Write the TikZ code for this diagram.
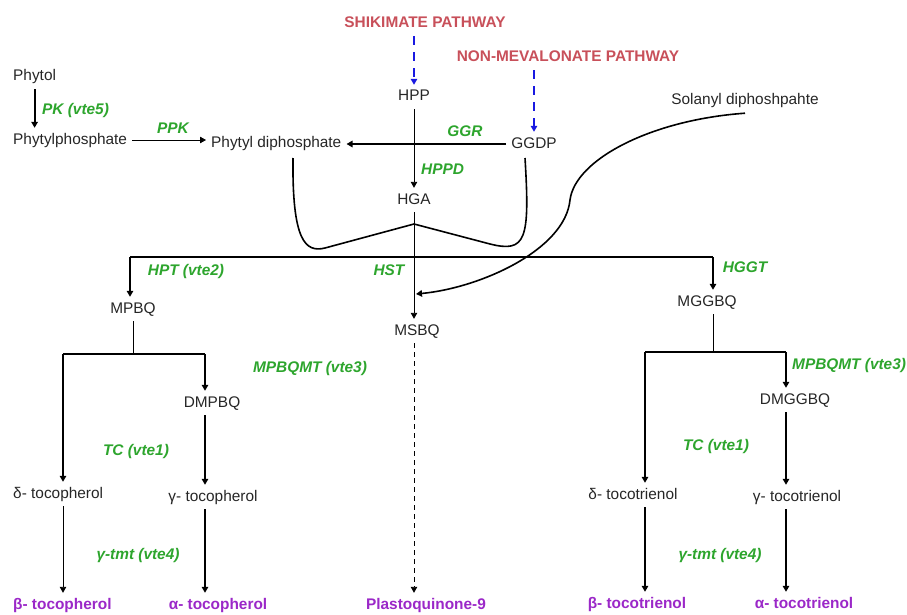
\documentclass[tikz,border=0pt]{standalone}
\usepackage{fontspec}
\setmainfont{Liberation Sans}
\usetikzlibrary{arrows.meta,calc}
\definecolor{pathred}{RGB}{200,80,90}
\definecolor{enzgreen}{RGB}{45,165,45}
\definecolor{prodpurple}{RGB}{155,40,200}
\definecolor{dashblue}{RGB}{25,25,225}
\begin{document}
\begin{tikzpicture}[x=1pt,y=-1pt,
  every node/.style={font=\fontsize{15.4}{18}\selectfont, text=black!85, inner xsep=5pt, inner ysep=5pt, text height=11pt, text depth=3pt},
  enz/.style={text=enzgreen, font=\fontsize{15.4}{18}\selectfont\bfseries\itshape},
  pw/.style={text=pathred, font=\fontsize{15.4}{18}\selectfont\bfseries},
  prod/.style={text=prodpurple, font=\fontsize{15.4}{18}\selectfont\bfseries},
  tipd/.style={-{Triangle[length=6pt,width=6.5pt]}},
  thk/.style={tipd, line width=2.2pt},
  thn/.style={tipd, line width=0.9pt},
  midarr/.style={tipd, line width=1.5pt},
  barline/.style={line width=2.2pt},
  thinline/.style={line width=0.9pt},
  midline/.style={line width=1.5pt},
  curveline/.style={line width=1.6pt},
  bluedash/.style={tipd, dashblue, line width=1.8pt, dash pattern=on 9pt off 7pt},
  grayd/.style={tipd, line width=0.9pt, dash pattern=on 5pt off 4pt}
]
\useasboundingbox (0,0) rectangle (907,615);

% pathways
\node[pw] (shik) at (425,24) {SHIKIMATE PATHWAY};
\node[pw] (nonmev) at (568,58) {NON-MEVALONATE PATHWAY};

% compounds
\node (hpp) at (414,97) {HPP};
\node (ggdp) at (534,144) {GGDP};
\node (solanyl) at (745,101) {Solanyl diphoshpahte};
\node[anchor=west] (phytol) at (8,77) {Phytol};
\node[anchor=west] (phytylp) at (8,140) {Phytylphosphate};
\node[anchor=west] (phytyldp) at (206,143) {Phytyl diphosphate};
\node (hga) at (414,200) {HGA};
\node (mpbq) at (133,309) {MPBQ};
\node (msbq) at (417,331) {MSBQ};
\node (mggbq) at (707,302) {MGGBQ};
\node (dmpbq) at (212,403) {DMPBQ};
\node (dmggbq) at (795,400) {DMGGBQ};
\node[anchor=west] (dtoco) at (8,494) {δ- tocopherol};
\node (gtoco) at (213,497) {γ- tocopherol};
\node (dtri) at (633,495) {δ- tocotrienol};
\node (gtri) at (797,497) {γ- tocotrienol};

% products
\node[prod,anchor=west] (btoco) at (8,605) {β- tocopherol};
\node[prod] (atoco) at (218,605) {α- tocopherol};
\node[prod] (pq9) at (426,605) {Plastoquinone-9};
\node[prod] (btri) at (637,604) {β- tocotrienol};
\node[prod] (atri) at (804,604) {α- tocotrienol};

% enzymes
\node[enz,anchor=west] (pk) at (37,110) {PK (vte5)};
\node[enz] (ppk) at (173,129) {PPK};
\node[enz] (ggr) at (465,132) {GGR};
\node[enz,anchor=west] (hppd) at (416,170) {HPPD};
\node[enz] (hpt) at (186,271) {HPT (vte2)};
\node[enz] (hst) at (389,271) {HST};
\node[enz] (hggt) at (745,268) {HGGT};
\node[enz] (mpbqmtL) at (310,368) {MPBQMT (vte3)};
\node[enz,anchor=west] (mpbqmtR) at (787,365) {MPBQMT (vte3)};
\node[enz] (tcL) at (136,451) {TC (vte1)};
\node[enz] (tcR) at (716,446) {TC (vte1)};
\node[enz] (tmtL) at (138,555) {γ-tmt (vte4)};
\node[enz] (tmtR) at (720,555) {γ-tmt (vte4)};

% junction coordinates
\coordinate (bL) at (130,257);
\coordinate (bR) at (713,257);
\coordinate (mL) at (63,354);
\coordinate (mR) at (205,354);
\coordinate (nL) at (645,352);
\coordinate (nR) at (786,352);
\coordinate (nC) at (713,352);
\coordinate (vL) at (293,158);
\coordinate (vR) at (525,158);
\coordinate (vTop) at (414,224);
\coordinate (sEnd) at (416,294);

% pathway inputs
\draw[bluedash] (hpp |- shik.south) -- (hpp.north);
\draw[bluedash] (ggdp |- nonmev.south) -- (ggdp.north);

% upper part
\draw[thk] (phytol.south) -- (phytol.south |- phytylp.north);
\draw[thn] (phytylp.east) -- (phytylp.east -| phytyldp.west);
\draw[thk] (ggdp.west) -- (ggdp.west -| phytyldp.east);
\draw[thn] (hpp.south) -- (hga.north);
\draw[thn] (hga.south) -- (hga.south |- msbq.north);
\draw[curveline] (vL) .. controls (292,240) and (305,253) .. (325,248) -- (vTop)
  -- (490,244) .. controls (526,253) and (530,240) .. (vR);
\draw[tipd, curveline] (solanyl.south) .. controls (650,120) and (575,160) .. (570,200)
  .. controls (565,250) and (480,288) .. (sEnd);

% main branch bar
\draw[midline] (bL) -- (bR);
\draw[midarr] (bL) -- (bL |- mpbq.north);
\draw[midarr] (bR) -- (bR |- mggbq.north);

% tocopherol branch
\draw[thinline] (mpbq.south) -- (mpbq.south |- mL);
\draw[barline] (mL) -- (mR);
\draw[thk] (mL) -- (mL |- dtoco.north);
\draw[thk] (mR) -- (mR |- dmpbq.north);
\draw[thk] (mR |- dmpbq.south) -- (mR |- gtoco.north);
\draw[thn] (mL |- dtoco.south) -- (mL |- btoco.north);
\draw[thk] (mR |- gtoco.south) -- (mR |- atoco.north);

% plastoquinone
\draw[grayd] (hga.south |- msbq.south) -- (hga.south |- pq9.north);

% tocotrienol branch
\draw[thinline] (mggbq.south -| nC) -- (nC);
\draw[barline] (nL) -- (nR);
\draw[thk] (nL) -- (nL |- dtri.north);
\draw[thk] (nR) -- (nR |- dmggbq.north);
\draw[thk] (nR |- dmggbq.south) -- (nR |- gtri.north);
\draw[thk] (nL |- dtri.south) -- (nL |- btri.north);
\draw[thk] (nR |- gtri.south) -- (nR |- atri.north);
\end{tikzpicture}
\end{document}
